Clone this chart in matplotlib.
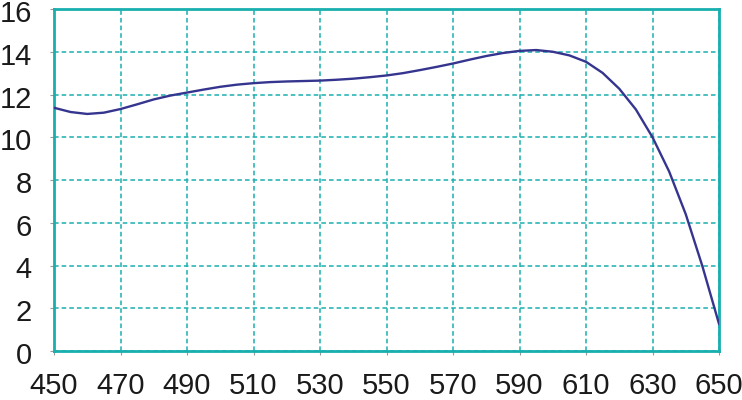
import matplotlib
matplotlib.use('Agg')
import matplotlib.pyplot as plt
import matplotlib.transforms as mtransforms

# values (5-unit steps)
x_vals = [450, 455, 460, 465, 470, 475, 480, 485, 490, 495, 500, 505, 510, 515,
          520, 525, 530, 535, 540, 545, 550, 555, 560, 565, 570, 575, 580, 585,
          590, 595, 600, 605, 610, 615, 620, 625, 630, 635, 640, 645, 650]
y_vals = [11.38, 11.18, 11.09, 11.15, 11.32, 11.54, 11.77, 11.95, 12.09, 12.23,
          12.36, 12.46, 12.53, 12.58, 12.61, 12.63, 12.65, 12.69, 12.74, 12.81,
          12.89, 13.00, 13.14, 13.29, 13.45, 13.63, 13.80, 13.94, 14.04, 14.08,
          14.00, 13.83, 13.53, 13.01, 12.27, 11.30, 10.00, 8.40, 6.40, 3.97, 1.27]
x_ticks = [450, 470, 490, 510, 530, 550, 570, 590, 610, 630, 650]
y_ticks = [0, 2, 4, 6, 8, 10, 12, 14, 16]

teal = '#1aafaf'
line_col = '#35358f'

plt.rcParams['font.family'] = ['Liberation Sans', 'DejaVu Sans']

fig = plt.figure(figsize=(7.42, 4.0), dpi=100)
ax = fig.add_axes([54 / 742, 49 / 400, 665 / 742, 342 / 400])

ax.plot(x_vals, y_vals, color=line_col, linewidth=1.7, zorder=3,
        solid_joinstyle='round')

ax.set_xlim(450, 650)
ax.set_ylim(0, 16)
ax.set_xticks(x_ticks)
ax.set_yticks(y_ticks)

ax.grid(True, color=teal, linestyle=(0, (3, 2)), linewidth=1.1)
for s in ax.spines.values():
    s.set_color(teal)
    s.set_linewidth(2)

ax.tick_params(axis='both', labelsize=21, length=3, color='#999999',
               labelcolor='#1a1a1a')
ax.tick_params(axis='y', pad=13)
ax.tick_params(axis='x', pad=12)

# nudge y labels down a little so the top one sits inside the figure
shift = mtransforms.ScaledTranslation(0, -2 / 100, fig.dpi_scale_trans)
for lbl in ax.get_yticklabels():
    lbl.set_transform(lbl.get_transform() + shift)

fig.savefig('out.png', dpi=100)
